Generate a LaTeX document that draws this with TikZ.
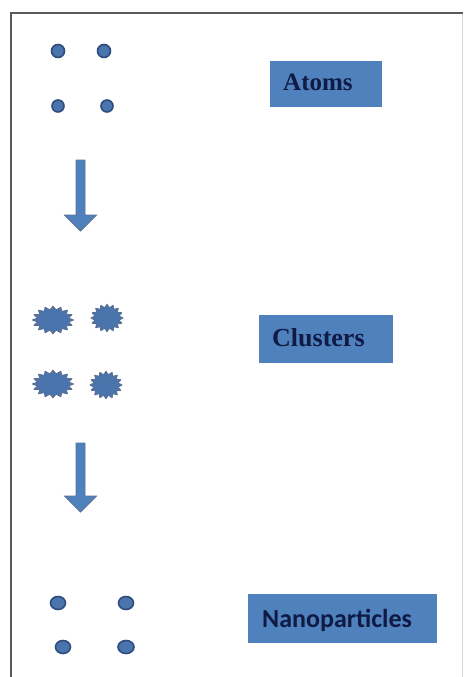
\documentclass[tikz,border=0pt]{standalone}
\usepackage{fontspec}
\setmainfont{Liberation Serif}
\newfontfamily\carl{Carlito}
\usetikzlibrary{calc,shapes.geometric}
\definecolor{boxblue}{HTML}{4F81BD}
\definecolor{dotfill}{HTML}{4A74AC}
\definecolor{dotline}{HTML}{2E4C7E}
\definecolor{navy}{HTML}{0F1A45}
\definecolor{framegray}{HTML}{5A5A5A}
\begin{document}
\begin{tikzpicture}[x=1pt,y=-1pt,
  labelbox/.style={fill=boxblue, text=navy, font=\bfseries\fontsize{25}{28}\selectfont, inner sep=0pt, anchor=center},
  atomdot/.style={fill=dotfill, draw=dotline, line width=1.6pt},
  blockarrow/.style={fill=boxblue, draw=dotline!80, line width=0.8pt, line join=miter},
  clusterfill/.style={fill=dotfill, draw=dotline!80, line width=1pt, line join=round}
]
\useasboundingbox (0,0) rectangle (465,677);
% frame
\draw[framegray, line width=2pt] (10.5,677) -- (10.5,13.5) -- (463,13.5);
\draw[gray!30, line width=0.6pt] (462,14) -- (462,677);

% atoms
\node[atomdot, circle, minimum size=13pt, inner sep=0pt] (at1) at (58,51) {};
\node[atomdot, circle, minimum size=13pt, inner sep=0pt] (at2) at (104,51) {};
\node[atomdot, circle, minimum size=12pt, inner sep=0pt] (at3) at (58,106) {};
\node[atomdot, circle, minimum size=12pt, inner sep=0pt] (at4) at (107,106) {};
\node[labelbox, minimum width=112pt, minimum height=46pt] (atoms) at (326,84) {};
\node[font=\bfseries\fontsize{25}{28}\selectfont, text=navy, anchor=base west, inner sep=0pt] (atomst) at (283,90) {Atoms};

% arrow 1
\coordinate (a1s) at (80.5,160);
\coordinate (a1e) at (80.5,231);
\filldraw[blockarrow] ($(a1s)+(-4.5,0)$) -- ($(a1s)+(4.5,0)$) -- ($(a1e)+(4.5,-16)$) -- ($(a1e)+(16,-16)$) -- (a1e) -- ($(a1e)+(-16,-16)$) -- ($(a1e)+(-4.5,-16)$) -- cycle;

% clusters
\foreach \n/\cx/\cy/\rx/\ry in {c1/53/320/18/12, c2/107/318/14/12, c3/53/384/18/12, c4/106/385/14/12}{
  \coordinate (\n) at (\cx,\cy);
  \filldraw[clusterfill, shift={(\n)}] plot[samples at={0,11.25,...,349}] ({\rx*(1+0.14*cos(16*\x))*cos(\x)},{\ry*(1+0.14*cos(16*\x))*sin(\x)}) -- cycle;
}
\node[labelbox, minimum width=134pt, minimum height=48pt] (clusters) at (326,339) {};
\node[font=\bfseries\fontsize{26}{28}\selectfont, text=navy, anchor=base west, inner sep=0pt] (clusterst) at (272,346) {Clusters};

% arrow 2
\coordinate (a2s) at (80.5,443);
\coordinate (a2e) at (80.5,512);
\filldraw[blockarrow] ($(a2s)+(-4.5,0)$) -- ($(a2s)+(4.5,0)$) -- ($(a2e)+(4.5,-16)$) -- ($(a2e)+(16,-16)$) -- (a2e) -- ($(a2e)+(-16,-16)$) -- ($(a2e)+(-4.5,-16)$) -- cycle;

% nanoparticles
\node[atomdot, ellipse, minimum width=15pt, minimum height=13pt, inner sep=0pt] (np1) at (58,603) {};
\node[atomdot, ellipse, minimum width=15pt, minimum height=13pt, inner sep=0pt] (np2) at (126,603) {};
\node[atomdot, ellipse, minimum width=15pt, minimum height=13pt, inner sep=0pt] (np3) at (63,647) {};
\node[atomdot, ellipse, minimum width=16pt, minimum height=13pt, inner sep=0pt] (np4) at (126,647) {};
\node[labelbox, minimum width=189pt, minimum height=49pt] (nano) at (342.5,618.5) {};
\node[font=\carl\bfseries\fontsize{26}{28}\selectfont, text=navy, anchor=base west, inner sep=0pt] (nanot) at (262,627) {Nanoparticles};
\end{tikzpicture}
\end{document}
